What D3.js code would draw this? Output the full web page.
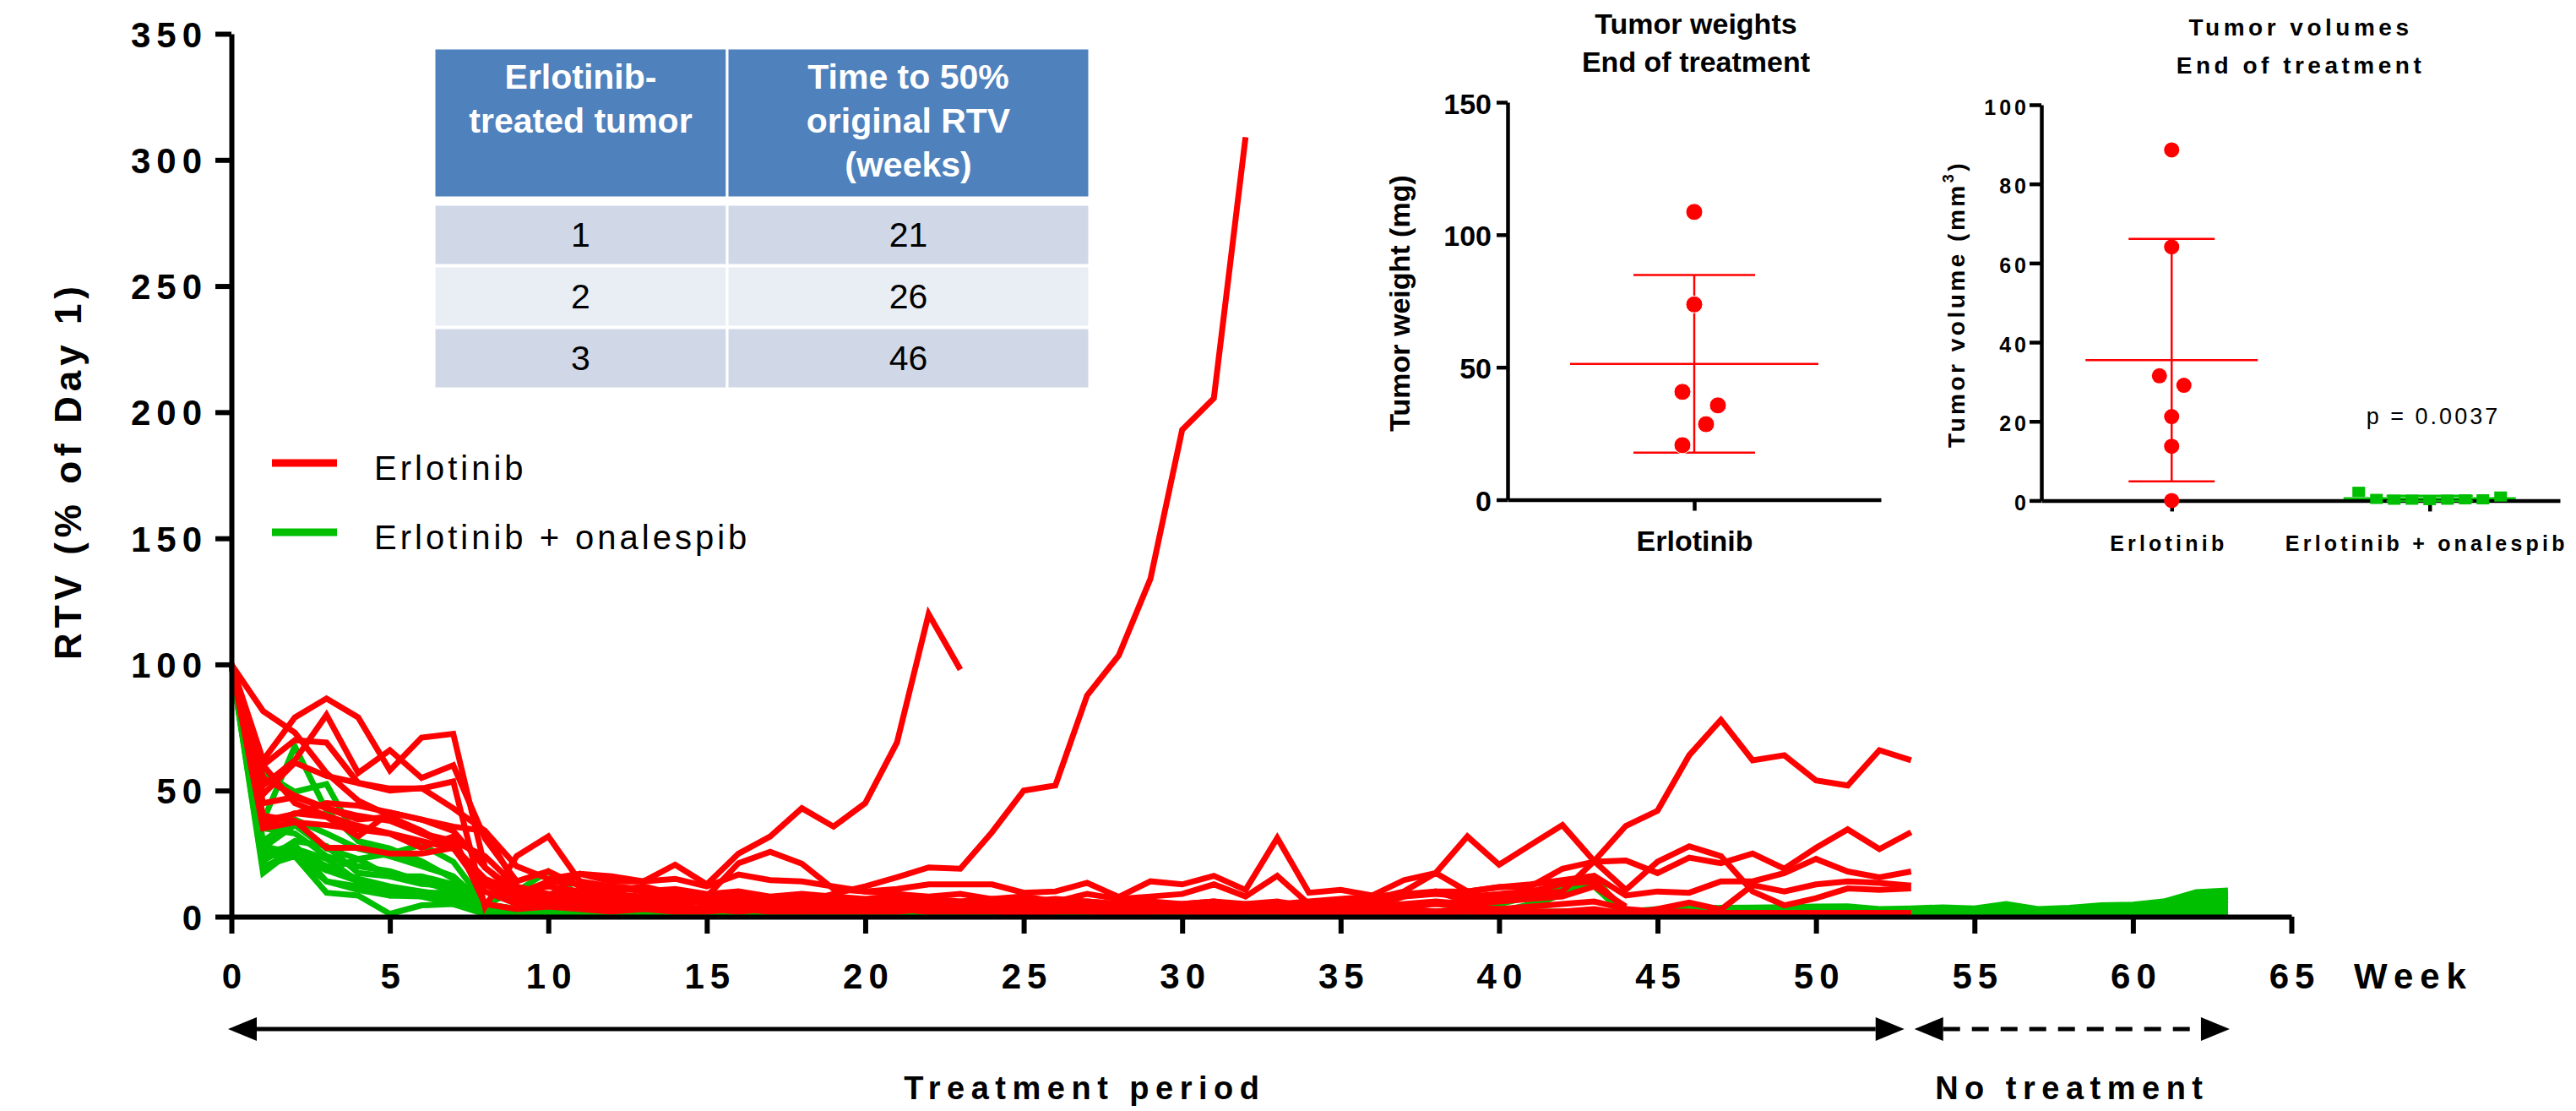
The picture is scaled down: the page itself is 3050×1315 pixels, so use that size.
<!DOCTYPE html>
<html>

<head>
  <meta charset='utf-8'>
  <style>
    body { margin: 0; background: #fff; }
    text { font-family: "Liberation Sans", Arial, sans-serif; }
  </style>
  <script type="text/javascript" src="https://cdn.jsdelivr.net/npm/d3@7"></script>
</head>

<body>

  <script type='module'>
    // ---- data (index of each value = week) ----
    const seriesNames = ["Erlotinib", "Erlotinib + onalespib"]
    const seriesColors = ["#ff0000", "#00bf00"]

    const erlotinibLines = [
      [100,55,48,43,40,38,33,30,24,12, 8,17,14,14,20.6,12.8,25,31.8,43,35.7, 45,69,120,98],
      [100,60,45,40,36,33,30,27,15,8, 9,7,6,5,6,7,8,7,6,9, 12,15.6,19.5,19,33.5,50,52,87.7,103.6,134, 193,205.5,309],
      [100,81.5,73,57,46,40,33,28,15,10, 8,9,7,6,5,6,5,4,5,4, 3,4,5,4,3,4,3,5,4,3, 4,3,5,4,3,3,4,8,10,6, 8,9,10,22,36,42,64,78,62,64, 54,52,66,62],
      [100,60,70,69,53,50,51,43,34,20, 15,17,16,14,15,12,16.7,14.5,14,12, 10,11,12.8,12.8,12.8,9.5,10,13.4,7.8,14, 12.8,16.2,10.6,31.2,9.5,10.6,8.4,14.5,17.3,31.8, 20.6,28.5,36.3,22,10.6,21.8,27.9,24,10,4.5, 7.3,11.2,10.6,11.2],
      [100,62,79,86.5,79,58,71,72.5,19.5,9, 14,13,12,11,8,6,7,6,5,6, 5,6,5,4,6,5,4,6,5,4, 5,6,4,5,6,7,8,9,10,10, 11.7,12.8,14.5,16.2,8.4,10,9.5,14,14,17.3, 22.9,17.9,15.6,17.9],
      [100,52,62,80,57,66,55,60,31,14, 18,12,10,12,9,8,21.2,25.7,21,11, 10,9,8,9,7,8,6,9,7,8, 9,12.8,8,16.2,5,6,7,10,17.3,10, 11.7,12,19,21.8,22.3,17.3,23.4,21.2,25,19, 27.3,34.6,26.8,33.5],
      [100,38,40.7,45,44,41.3,38.5,35.7,34,12, 9,9,8,6,7,5,6,5,4,5, 4,5,4,3,4,3,4,3,3,4, 3,4,3,4,3,3,4,4,5,4, 3,2,2,3,1,3,5.6,2.8,12.5,10, 12.8,14,13.4,12.3],
      [100,35,37.4,36.3,34.6,32.9,27.3,31.8,5,3, 4,3,2,3,2,2,3,2,2,3, 2,2,3,2,2,1.5,2,2,1.5,2, 2,1.5,2,2,1.5,1.5,2,1.5,1.5,2, 1.5,1.5,2,1.5,1.5,1.5,1.5,1.5,1.5,1.5, 1.5,1.5,1.5,1.5],
      [100,45,47.4,43,38.5,39.6,34,27.3,12.8,6, 7,6,5,5,4,3,4,4,3,4, 3,3,2,3,3,2,3,2,3,2, 2,3,2,2,2,3,2,3,2,3, 3,4,5,6,3,2,2,1,1,1, 1,1,1,1],
      [100,48.5,61,55.8,53,50.8,50.8,53.6,3.9,24, 31.8,14,12,10,11,9,10,8,9,8, 7,8,7,6,7,6,7,6,5,6, 5,6,5,6,4,3,4,5,6,5, 6,7,8,12,4],
      [100,40,38,27.3,27.3,25,25,27.3,10,5, 6,5,4,4,3,3,2,3,2,2, 2,3,2,2,3,2,2,3,2,2, 3,2,2,3,2,2,2,3,2,2, 3,2],
      [100,36,41,39.6,31.8,41.3,38.5,34,19.5,10, 12,10,9,8,9,7,8,6,7,6, 5,6,5,6,5,4,5,4,5,4, 4,5,4,5,4,5,6,8,9,8, 9,10,13,14,3]
    ]

    const comboLines = [
      [100,57,49.5,52.6,30,27,22,15,5,3, 2,2,1.5,1.5,1,1,1,1,1,1, 1,1,1,1.5,1,1,1,1,1,1, 1,1,1,1,1,1,1,1,2,3, 5,8,11.7,13,0.5],
      [100,38,67.5,42,30,24,20,16,3,2, 2,1.5,1,1,1,1,1,1,1,1, 1,1,1,4.8,2,1,1,1,1,1, 1,1,1,5,1,1,1,1,1,1, 2,4,9,16,0.5],
      [100,17.3,27,20,15,12,10,8,2,1, 1,1,1,0.5,0.5,0.5,0.5,0.5,0.5,0.5, 0.5,0.5,0.5,0.5,0.5,0.5,0.5,0.5,0.5,0.5, 0.5,0.5,0.5,0.5,0.5,0.5,0.5,0.5,0.5,0.5, 0.5,0.5,0.5,0.5,0.5,0.5,0.5,0.5,0.5,0.5, 0.5,0.5,0.5,0.5,0.5,0.8,1,1,1,1, 1,1.5,2,2.5],
      [100,24,25,18.4,14,11.7,9.5,9.5,2,1, 1,1,1,1,1,1,1,1,1,1, 1,1,1,1,1,1,1,1,1,1, 1,1,1,1,1,1,1,1,1.5,1.5, 1.5,2,2,2,2,3,3.3,3.5,3.6,3.8, 4,4.1,3,3.3,3.7,3.3,5,3,3.5,4.5, 4.8,6.1,9.7,10.4],
      [100,27.3,36.3,27,22.9,16,16,12.8,3,2, 2,1.5,1.5,1,1,1,1,1,1,1, 1,1,1,1,1,1,1,1,1,1, 1,1,1,1,1,1,1,1,1,1, 1,1,1.5,1.5,1.5,2,2.5,2.5,3,3, 3.2,3.3,2.5,2.8,3,3,2,2.8,3,3.5, 4,5,8,9],
      [100,25,28.5,14,10.6,8.4,8,5,2,1, 1,1,0.5,0.5,0.5,0.5,0.5,0.5,0.5,0.5, 0.5,0.5,0.5,0.5,0.5,0.5,0.5,0.5,0.5,0.5, 0.5,0.5,0.5,0.5,0.5,0.5,0.5,0.5,0.5,0.5, 0.5,1,1,1.5,1,1.5,2,2,2,2.5, 2.5,2.5,2,2.3,2.5,2.5,3.5,2.5,2.8,3, 3.5,4.2,7,8],
      [100,30,38.5,33,27,24,20.6,16,5,3, 2,2,2,1.5,1.5,1,1,1,1,1, 1,1,1,1,1,1,1,1,1,1, 1,1,1,1,1,1,1,1,1,1, 2,5,10,12,0.5],
      [100,20,24,9.5,8.4,1.1,4.5,5,1,1, 1,0.5,0.5,0.5,0.5,0.5,0.5,0.5,0.5,0.5, 0.5,0.5,0.5,0.5,0.5,0.5,0.5,0.5,0.5,0.5, 0.5,0.5,0.5,0.5,0.5,0.5,0.5,0.5,0.5,0.5, 0.5,0.5,0.5,0.5,0.5,0.5,0.5,0.5,0.5,0.5, 0.5,0.5,0.5,0.5,0.5,0.5,1,0.5,0.5,0.5, 0.5,0.5,1,1],
      [100,22,30,28,17.3,16,13,12,4,2, 1.5,1.5,1,1,1,1,1,1,1,1, 1,1,1,1,1,1,1,1,1,1, 1,1,1,1,1,1,1,1,1,1, 1,1,1,1.5,1.5,1.5,2,2,2,2, 2,2,2,2,2,2,2.5,2,2,2.5, 3,3.5,5.5,6.5],
      [100,35,33,24,20,18,14,10,3,2, 1.5,1.5,1,1,1,1,1,1,1,1, 1,1,1,1,1,1,1,1,1,1, 1,1,1,1,1,1,1,1,1,1, 1,1,1,1,1,1,1.5,1.5,1.5,1.5, 1.5,1.5,1.5,1.5,1.5,1.5,2,1.5,1.5,2, 2.5,3,4.5,5],
      [100,28,25,18.4,22.9,25,28.5,21.8,5,10, 18,8,3,2,1.5,1.5,1,1,1,1, 1,1,1,1,1,1,1,1,1,1, 1,1,1,1,1,1,1,1,1,1, 1,1,1,1,1,1,1,1,1,1, 1,1,1,1,1,1,1.5,1,1,1.5, 2,2.5,3.5,4],
      [100,19,27,23,14,8.4,9,9.5,2,1, 1,1,1,3,4,2,1,1,1,1, 1,1,1,1,1,1,1,1,1,1, 1,1,1,1,1,1,1,1,1,1, 1,1,1,1,1,1,1,1,1,1, 1,1,1,1,1,1,1,1,1,1, 1,1.5,2,2.5],
      [100,26,24,14,12,10,8,6,2,1, 1,1,1,1,1,0.5,0.5,0.5,0.5,0.5, 0.5,0.5,0.5,0.5,0.5,0.5,0.5,0.5,0.5,0.5, 0.5,0.5,0.5,0.5,0.5,0.5,0.5,0.5,0.5,0.5, 0.5,0.5,0.5,0.5,0.5,0.5,0.5,0.5,0.5,0.5, 0.5,0.5,0.5,0.5,0.5,0.5,0.5,0.5,0.5,0.5, 0.5,0.5,1,1.5]
    ]

    const weekTicks = [0, 5, 10, 15, 20, 25, 30, 35, 40, 45, 50, 55, 60, 65]
    const rtvTicks = [0, 50, 100, 150, 200, 250, 300, 350]
    const periods = [
      { label: "Treatment period", from: 0, to: 53, dashed: false },
      { label: "No treatment", from: 53, to: 63, dashed: true }
    ]

    const tableHeader = [["Erlotinib-", "treated tumor"], ["Time to 50%", "original RTV", "(weeks)"]]
    const tableTumor = ["1", "2", "3"]
    const tableWeeks = ["21", "26", "46"]

    const weightTitle = ["Tumor weights", "End of treatment"]
    const weightTicks = [0, 50, 100, 150]
    const weightValues = [108.6, 73.7, 40.7, 35.6, 28.5, 20.6]
    const weightJitter = [0, 0, -1, 2, 1, -1]

    const volumeTitle = ["Tumor volumes", "End of treatment"]
    const volumeTicks = [0, 20, 40, 60, 80, 100]
    const volumeErlotinib = [88.6, 64.1, 31.5, 29.1, 21.2, 13.7, 0]
    const volumeErlotinibJitter = [0, 0, -1, 1, 0, 0, 0]
    const volumeCombo = [2.2, 0.4, 0.2, 0.2, 0.1, 0.2, 0.3, 0.3, 1.0]
    const volumeComboJitter = [-4, -3, -2, -1, 0, 1, 2, 3, 4]
    const pValue = "p = 0.0037"

    // ---- setup ----
    const [width, height] = [3050, 1315]
    const svg = d3.select("body").append("svg")
      .attr("width", width).attr("height", height)
      .style("background", "#fff")

    function styleAxis(g, sw, size, spacing, weight) {
      g.attr("font-family", null).attr("font-size", null)
      g.select(".domain").attr("stroke", "#000").attr("stroke-width", sw)
      g.selectAll(".tick line").attr("stroke", "#000").attr("stroke-width", sw)
      g.selectAll(".tick text")
        .attr("fill", "#000")
        .attr("font-size", size)
        .attr("font-weight", weight)
        .attr("letter-spacing", spacing)
    }

    // ---- main RTV chart ----
    const x = d3.scaleLinear().domain([0, 65]).range([274, 2713])
    const y = d3.scaleLinear().domain([0, 350]).range([1085, 40])

    const line = d3.line().x((d, i) => x(i)).y(d => y(d))

    const gLines = svg.append("g")
      .attr("fill", "none")
      .attr("stroke-width", 7)
      .attr("stroke-linejoin", "miter")
    gLines.selectAll("path.combo")
      .data(comboLines)
      .join("path")
      .attr("class", "combo")
      .attr("stroke", seriesColors[1])
      .attr("d", line)
    gLines.selectAll("path.erl")
      .data(erlotinibLines)
      .join("path")
      .attr("class", "erl")
      .attr("stroke", seriesColors[0])
      .attr("d", line)

    const gx = svg.append("g")
      .attr("transform", `translate(0,${y(0)})`)
      .call(d3.axisBottom(x).tickValues(weekTicks).tickSize(20).tickSizeOuter(0).tickPadding(35))
    styleAxis(gx, 6, 42, 7, "bold")
    gx.selectAll(".tick text").attr("dx", 3.5)

    const gy = svg.append("g")
      .attr("transform", `translate(${x(0)},0)`)
      .call(d3.axisLeft(y).tickValues(rtvTicks).tickSize(19).tickSizeOuter(0).tickPadding(9))
    styleAxis(gy, 6, 42, 7, "bold")
    gy.selectAll(".tick text").attr("dy", 15)

    svg.append("text")
      .attr("x", 2787).attr("y", 1170)
      .attr("font-size", 42).attr("font-weight", "bold").attr("letter-spacing", 8)
      .text("Week")

    svg.append("text")
      .attr("transform", "translate(96,560) rotate(-90)")
      .attr("text-anchor", "middle").attr("dx", 3)
      .attr("font-size", 44).attr("font-weight", "bold").attr("letter-spacing", 6)
      .text("RTV (% of Day 1)")

    // legend
    const legend = svg.append("g")
    seriesNames.forEach((name, i) => {
      const ly = 548 + i * 82
      legend.append("line")
        .attr("x1", 322).attr("x2", 399).attr("y1", ly).attr("y2", ly)
        .attr("stroke", seriesColors[i]).attr("stroke-width", 9)
      legend.append("text")
        .attr("x", 443).attr("y", ly + 20)
        .attr("font-size", 40).attr("letter-spacing", 4)
        .text(name)
    })

    // period arrows
    const arrowY = 1218
    const gArrows = svg.append("g")
    periods.forEach((p, i) => {
      const x0 = i === 0 ? x(p.from) - 4 : x(p.from) + 4
      const x1 = i === 0 ? x(p.to) - 8 : x(p.to) + 2
      const head = 34, half = 14
      gArrows.append("line")
        .attr("x1", x0 + head).attr("x2", x1 - head)
        .attr("y1", arrowY).attr("y2", arrowY)
        .attr("stroke", "#000").attr("stroke-width", 5)
        .attr("stroke-dasharray", p.dashed ? "20,14" : null)
      gArrows.append("path")
        .attr("d", `M${x0},${arrowY}L${x0 + head},${arrowY - half}L${x0 + head},${arrowY + half}Z`)
      gArrows.append("path")
        .attr("d", `M${x1},${arrowY}L${x1 - head},${arrowY - half}L${x1 - head},${arrowY + half}Z`)
      gArrows.append("text")
        .attr("x", (x0 + x1) / 2 + (i === 0 ? 22 : 0)).attr("y", 1301)
        .attr("text-anchor", "middle")
        .attr("font-size", 38).attr("font-weight", "bold").attr("letter-spacing", 7.5)
        .text(p.label)
    })

    // ---- table ----
    const colX = [514, 861, 1290]
    const gTable = svg.append("g")
    gTable.selectAll("rect.head")
      .data(tableHeader)
      .join("rect")
      .attr("x", (d, i) => colX[i]).attr("y", 57)
      .attr("width", (d, i) => colX[i + 1] - colX[i]).attr("height", 177)
      .attr("fill", "#4f81bd").attr("stroke", "#fff").attr("stroke-width", 3)
    tableHeader.forEach((lines, c) => {
      lines.forEach((t, k) => {
        gTable.append("text")
          .attr("x", (colX[c] + colX[c + 1]) / 2).attr("y", 105 + k * 52)
          .attr("text-anchor", "middle")
          .attr("font-size", 41).attr("font-weight", "bold").attr("fill", "#fff")
          .text(t)
      })
    })
    const rowY = [242, 315, 388]
    tableTumor.forEach((t, r) => {
      [t, tableWeeks[r]].forEach((v, c) => {
        gTable.append("rect")
          .attr("x", colX[c]).attr("y", rowY[r])
          .attr("width", colX[c + 1] - colX[c]).attr("height", 72)
          .attr("fill", r % 2 === 0 ? "#d0d8e8" : "#e9edf4")
          .attr("stroke", "#fff").attr("stroke-width", 3)
        gTable.append("text")
          .attr("x", (colX[c] + colX[c + 1]) / 2).attr("y", rowY[r] + 50)
          .attr("text-anchor", "middle")
          .attr("font-size", 41).attr("fill", "#000")
          .text(v)
      })
    })

    // ---- inset: tumor weights ----
    const wy = d3.scaleLinear().domain([0, 150]).range([591.5, 121])
    const wx = d3.scalePoint().domain([seriesNames[0]]).range([1785, 2227]).padding(0.5)
    const gWx = svg.append("g")
      .attr("transform", `translate(0,${wy(0)})`)
      .call(d3.axisBottom(wx).tickSize(13).tickSizeOuter(0).tickPadding(23))
    styleAxis(gWx, 4.5, 34, 0, "bold")
    const gWy = svg.append("g")
      .attr("transform", `translate(${wx.range()[0]},0)`)
      .call(d3.axisLeft(wy).tickValues(weightTicks).tickSize(13).tickSizeOuter(0).tickPadding(6))
    styleAxis(gWy, 4.5, 34, 0, "bold")
    gWy.selectAll(".tick text").attr("dy", 13)

    weightTitle.forEach((t, k) => {
      svg.append("text")
        .attr("x", 2008).attr("y", 40 + k * 45)
        .attr("text-anchor", "middle")
        .attr("font-size", 34).attr("font-weight", "bold")
        .text(t)
    })
    svg.append("text")
      .attr("transform", "translate(1669,359) rotate(-90)")
      .attr("text-anchor", "middle")
      .attr("font-size", 34).attr("font-weight", "bold")
      .text("Tumor weight (mg)")

    const wMean = d3.mean(weightValues), wSd = d3.deviation(weightValues)
    const wc = wx(seriesNames[0])
    const gWs = svg.append("g").attr("stroke", seriesColors[0]).attr("stroke-width", 2.5)
    gWs.append("line").attr("x1", wc - 147).attr("x2", wc + 147).attr("y1", wy(wMean)).attr("y2", wy(wMean))
    gWs.append("line").attr("x1", wc).attr("x2", wc).attr("y1", wy(wMean + wSd)).attr("y2", wy(wMean - wSd))
    gWs.append("line").attr("x1", wc - 72).attr("x2", wc + 72).attr("y1", wy(wMean + wSd)).attr("y2", wy(wMean + wSd))
    gWs.append("line").attr("x1", wc - 72).attr("x2", wc + 72).attr("y1", wy(wMean - wSd)).attr("y2", wy(wMean - wSd))
    svg.append("g").selectAll("circle")
      .data(weightValues)
      .join("circle")
      .attr("cx", (d, i) => wc + weightJitter[i] * 14)
      .attr("cy", d => wy(d))
      .attr("r", 10)
      .attr("fill", seriesColors[0])
      .attr("stroke", "#fff").attr("stroke-width", 1)

    // ---- inset: tumor volumes ----
    const vy = d3.scaleLinear().domain([0, 100]).range([592.4, 124])
    const vx = d3.scalePoint().domain(seriesNames).range([2417, 3031]).padding(0.505)
    const gVx = svg.append("g")
      .attr("transform", `translate(0,${vy(0)})`)
      .call(d3.axisBottom(vx).tickSize(13).tickSizeOuter(0).tickPadding(29))
    styleAxis(gVx, 4.5, 25, 4.2, "bold")
    gVx.selectAll(".tick text").attr("dx", -4)
    const gVy = svg.append("g")
      .attr("transform", `translate(${vx.range()[0]},0)`)
      .call(d3.axisLeft(vy).tickValues(volumeTicks).tickSize(14).tickSizeOuter(0).tickPadding(0))
    styleAxis(gVy, 4.5, 25, 4, "bold")
    gVy.selectAll(".tick text").attr("dy", 11)

    volumeTitle.forEach((t, k) => {
      svg.append("text")
        .attr("x", 2724).attr("y", 42 + k * 45)
        .attr("text-anchor", "middle")
        .attr("font-size", 28).attr("font-weight", "bold").attr("letter-spacing", 4.5)
        .text(t)
    })
    const vTitle = svg.append("text")
      .attr("transform", "translate(2326,360) rotate(-90)")
      .attr("text-anchor", "middle")
      .attr("font-size", 28).attr("font-weight", "bold").attr("letter-spacing", 3.5)
    vTitle.append("tspan").text("Tumor volume (mm")
    vTitle.append("tspan").attr("dy", -13).attr("font-size", 18).text("3")
    vTitle.append("tspan").attr("dy", 13).text(")")

    svg.append("text")
      .attr("x", 2881).attr("y", 502)
      .attr("text-anchor", "middle")
      .attr("font-size", 27).attr("letter-spacing", 3)
      .text(pValue)

    const volumeGroups = [
      { values: volumeErlotinib, jitter: volumeErlotinibJitter, step: 14.5 },
      { values: volumeCombo, jitter: volumeComboJitter, step: 21 }
    ]
    volumeGroups.forEach((grp, gi) => {
      const cx = vx(seriesNames[gi])
      const m = d3.mean(grp.values), sd = d3.deviation(grp.values)
      const g = svg.append("g").attr("stroke", seriesColors[gi]).attr("stroke-width", 2.5)
      g.append("line").attr("x1", cx - 102).attr("x2", cx + 102).attr("y1", vy(m)).attr("y2", vy(m))
      g.append("line").attr("x1", cx).attr("x2", cx).attr("y1", vy(m + sd)).attr("y2", vy(m - sd))
      g.append("line").attr("x1", cx - 51).attr("x2", cx + 51).attr("y1", vy(m + sd)).attr("y2", vy(m + sd))
      g.append("line").attr("x1", cx - 51).attr("x2", cx + 51).attr("y1", vy(m - sd)).attr("y2", vy(m - sd))
      const marks = svg.append("g").attr("fill", seriesColors[gi])
      if (gi === 0) {
        marks.selectAll("circle").data(grp.values).join("circle")
          .attr("cx", (d, i) => cx + grp.jitter[i] * grp.step)
          .attr("cy", d => vy(d))
          .attr("r", 9)
      } else {
        marks.selectAll("rect").data(grp.values).join("rect")
          .attr("x", (d, i) => cx + grp.jitter[i] * grp.step - 7.5)
          .attr("y", d => vy(d) - 6)
          .attr("width", 15).attr("height", 12)
      }
    })
  </script>
</body>

</html>
